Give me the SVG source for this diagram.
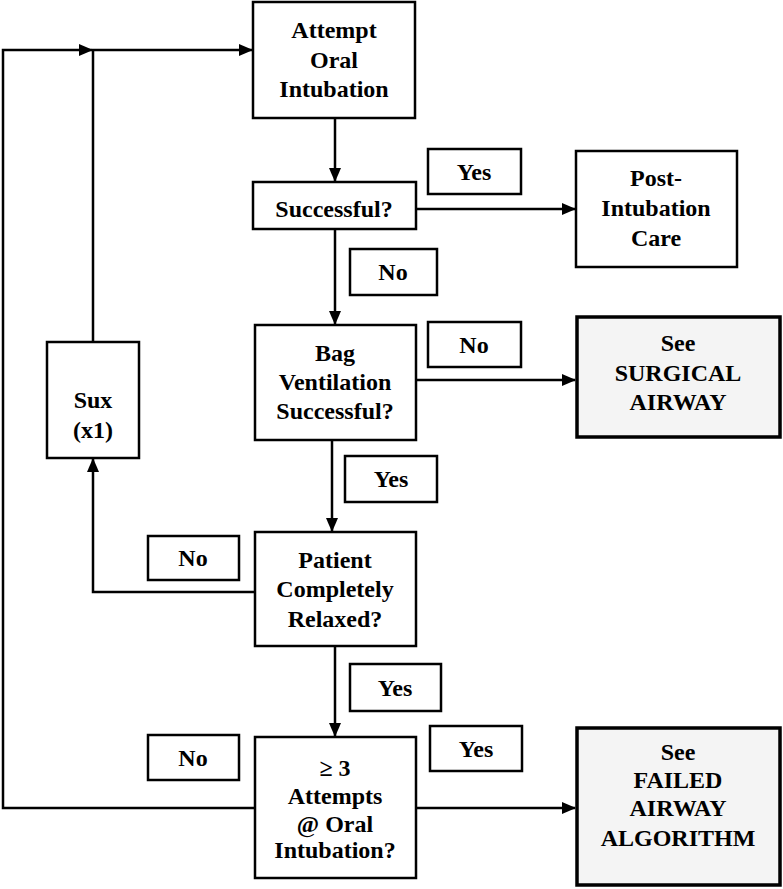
<svg xmlns="http://www.w3.org/2000/svg" width="783" height="889" viewBox="0 0 783 889">
<style>
.b{fill:#fff;stroke:#000;stroke-width:2.5}
.s{fill:#f4f4f4;stroke:#000;stroke-width:3.5}
.l{fill:none;stroke:#000;stroke-width:2.5}
text{font-family:"Liberation Serif","Times New Roman",serif;font-weight:bold;font-size:24px;text-anchor:middle;fill:#000}
.t{font-size:24px;font-weight:900}
</style>
<defs>
<marker id="a" markerWidth="14" markerHeight="12" refX="13" refY="6" orient="auto" markerUnits="userSpaceOnUse">
<path d="M0,0 L14,6 L0,12 Z" fill="#000"/>
</marker>
</defs>
<rect width="783" height="889" fill="#fff"/>
<g id="connectors">
<line class="l" x1="335" y1="118" x2="335" y2="181" marker-end="url(#a)"/>
<line class="l" x1="416" y1="209" x2="575" y2="209" marker-end="url(#a)"/>
<line class="l" x1="335" y1="230" x2="335" y2="324" marker-end="url(#a)"/>
<line class="l" x1="416" y1="380" x2="575" y2="380" marker-end="url(#a)"/>
<line class="l" x1="332" y1="440" x2="332" y2="531" marker-end="url(#a)"/>
<polyline class="l" points="255,592 93,592 93,459" marker-end="url(#a)"/>
<line class="l" x1="335" y1="646" x2="335" y2="736" marker-end="url(#a)"/>
<line class="l" x1="416" y1="808" x2="575" y2="808" marker-end="url(#a)"/>
<polyline class="l" points="255,808 3,808 3,50 92,50" marker-end="url(#a)"/>
<polyline class="l" points="93,342 93,50 252,50" marker-end="url(#a)"/>
</g>
<g id="attempt"><rect class="b" x="253" y="2" width="162" height="116"/><text x="334" y="38">Attempt</text><text x="334" y="68">Oral</text><text x="334" y="97">Intubation</text></g>
<g id="successful"><rect class="b" x="253" y="182" width="163" height="47"/><text x="334" y="217">Successful?</text></g>
<g id="yes1"><rect class="b" x="428" y="149" width="93" height="45"/><text x="474" y="180">Yes</text></g>
<g id="post"><rect class="b" x="576" y="151" width="161" height="116"/><text x="656" y="186">Post-</text><text x="656" y="216">Intubation</text><text x="656" y="246">Care</text></g>
<g id="no1"><rect class="b" x="350" y="249" width="87" height="46"/><text x="393" y="280">No</text></g>
<g id="bag"><rect class="b" x="255" y="325" width="161" height="115"/><text x="335" y="361">Bag</text><text x="335" y="390">Ventilation</text><text x="335" y="419">Successful?</text></g>
<g id="no2"><rect class="b" x="428" y="322" width="93" height="45"/><text x="474" y="353">No</text></g>
<g id="surgical"><rect class="s" x="577" y="317" width="203" height="120"/><text class="t" x="678" y="351">See</text><text class="t" x="678" y="381">SURGICAL</text><text class="t" x="678" y="410">AIRWAY</text></g>
<g id="sux"><rect class="b" x="47" y="342" width="92" height="116"/><text x="93" y="408">Sux</text><text x="93" y="438">(x1)</text></g>
<g id="yes2"><rect class="b" x="345" y="456" width="92" height="46"/><text x="391" y="487">Yes</text></g>
<g id="patient"><rect class="b" x="255" y="532" width="161" height="114"/><text x="335" y="568">Patient</text><text x="335" y="597">Completely</text><text x="335" y="627">Relaxed?</text></g>
<g id="no3"><rect class="b" x="148" y="536" width="91" height="44"/><text x="193" y="566">No</text></g>
<g id="yes3"><rect class="b" x="350" y="664" width="91" height="47"/><text x="395" y="696">Yes</text></g>
<g id="attempts3"><rect class="b" x="255" y="737" width="161" height="141"/><text x="335" y="776">≥ 3</text><text x="335" y="804">Attempts</text><text x="335" y="832">@ Oral</text><text x="335" y="858">Intubation?</text></g>
<g id="no4"><rect class="b" x="148" y="735" width="91" height="45"/><text x="193" y="766">No</text></g>
<g id="yes4"><rect class="b" x="430" y="726" width="92" height="45"/><text x="476" y="757">Yes</text></g>
<g id="failed"><rect class="s" x="577" y="728" width="203" height="157"/><text class="t" x="678" y="760">See</text><text class="t" x="678" y="788">FAILED</text><text class="t" x="678" y="816">AIRWAY</text><text class="t" x="678" y="846">ALGORITHM</text></g>
</svg>
